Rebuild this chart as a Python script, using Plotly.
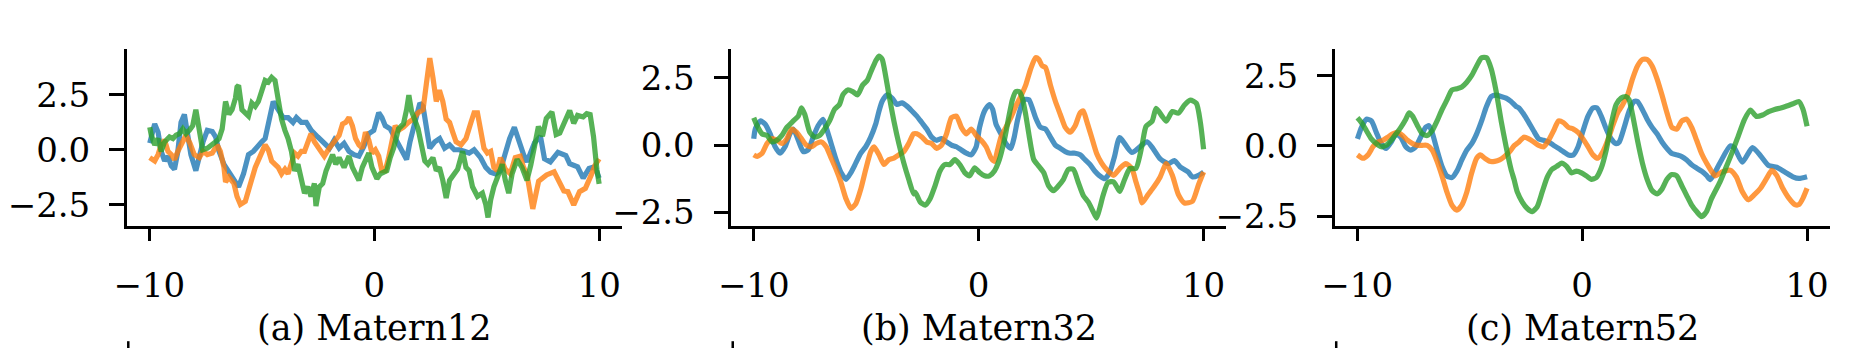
import plotly.graph_objects as go

# ---------------- data ----------------
# Panel (a) Matern12
m12_blue_x = [-9.98, -9.76, -9.61, -9.47, -9.32, -9.17, -9.02, -8.88, -8.73, -8.59, -8.44, -8.29, -8.15, -7.93, -7.78,
              -7.61, -7.42, -7.20, -7.05, -6.90, -6.68, -6.46, -6.24, -6.03, -5.81, -5.59, -5.37, -5.15, -5.00, -4.85,
              -4.68, -4.49, -4.27, -4.05, -3.83, -3.61, -3.46, -3.24, -3.02, -2.80, -2.51,
              -2.22, -1.99, -1.78, -1.56, -1.34, -1.12, -0.90, -0.68, -0.46, -0.24, -0.02, 0.20, 0.34, 0.49, 0.71,
              0.93, 1.15, 1.30, 1.44, 1.59, 1.73, 1.88, 2.03, 2.17, 2.32, 2.47, 2.69, 2.91, 3.13, 3.35, 3.56, 3.78,
              4.00, 4.22, 4.44, 4.73, 4.96, 5.17, 5.39, 5.61, 5.81, 6.02, 6.23, 6.42, 6.64,
              6.79, 7.13, 7.39, 7.57, 7.83, 8.17, 8.52, 8.69, 9.04, 9.29, 9.55, 9.81, 10.0]
m12_blue_y = [0.30, 1.17, 0.80, -0.07, -0.50, -0.30, -0.73, -0.88, -0.07, 1.24, 1.60, 0.66, -0.22, -0.95, -0.30,
              0.36, 0.88, 0.83, 0.58, -0.07, -0.66, -1.02, -1.39, -1.68, -1.09, -0.22, -0.07, 0.22, 0.36, 0.51,
              1.24, 2.19, 1.82, 1.46, 1.46, 1.24, 1.46, 1.24, 1.24, 0.88, 0.58,
              0.29, 0.07, 0.44, 0.07, 0.29, -0.07, -0.22, -0.29, 0.15, 0.73, 0.88, 1.68, 1.46, 1.09, 0.95,
              0.51, 0.07, -0.22, -0.44, 0.36, 0.95, 1.53, 2.12, 1.97, 0.80, 0.07, 0.36, 0.51, 0.07, 0.22, 0.0, 0.0,
              -0.07, -0.15, 0.0, -0.36, -0.80, -1.02, -1.09, -0.95, -0.22, 0.51, 1.02, 0.36, -0.22,
              -0.55, 0.32, 0.61, -0.41, -0.55, -0.12, -0.26, -0.63, -0.77, -1.29, -0.85, -0.77, -1.29]

m12_orange_x = [-9.98, -9.76, -9.61, -9.47, -9.32, -9.17, -9.02, -8.88, -8.73, -8.51, -8.37, -8.19, -8.00, -7.78,
                -7.61, -7.42, -7.20, -6.98, -6.84, -6.68, -6.61, -6.46, -6.24, -6.10, -5.95, -5.73, -5.59, -5.44,
                -5.29, -5.07, -4.85, -4.71, -4.56, -4.41, -4.27, -4.12, -3.97, -3.83, -3.68, -3.54, -3.39, -3.24,
                -3.10, -2.95, -2.81, -2.66, -2.44,
                -2.22, -2.00, -1.78, -1.56, -1.41, -1.27, -1.12, -0.97, -0.83, -0.68, -0.53, -0.39, -0.24, -0.10,
                0.05, 0.20, 0.34, 0.49, 0.64, 0.78, 0.93, 1.08, 1.30, 1.52, 1.73, 1.95, 2.17, 2.32, 2.47, 2.61,
                2.76, 2.90, 3.05, 3.20, 3.35, 3.49, 3.64, 3.86, 4.08, 4.30, 4.44, 4.59, 4.74, 4.88, 5.03, 5.18,
                5.32, 5.47, 5.61, 5.83, 6.05, 6.27, 6.49, 6.64,
                6.79, 6.96, 7.05, 7.31, 7.66, 8.00, 8.26, 8.43, 8.61, 8.87, 9.13, 9.39, 9.65, 9.82, 10.0]
m12_orange_y = [-0.36, -0.51, -0.22, 0.22, 0.44, -0.07, -0.22, -0.44, -0.07, 0.44, 0.66, 0.29, -0.22, -0.36,
                -0.07, -0.22, -0.15, 0.22, -0.07, -0.80, -1.46, -1.24, -1.53, -2.12, -2.48, -2.34, -1.82, -1.39,
                -0.80, -0.29, 0.22, 0.0, -0.51, -0.66, -0.80, -1.09, -0.88, -1.09, -0.66, -0.15, -0.29, -0.07,
                -0.07, 0.36, 0.73, 0.36, 0.0,
                -0.29, 0.07, 0.36, 0.66, 1.17, 1.24, 1.46, 1.09, 0.51, 0.22, 0.07, 0.80, 0.44, -0.15,
                0.0, -0.29, -0.95, -0.95, -0.36, 0.36, 1.09, 0.88, 1.02, 1.24, 1.39, 1.68, 1.82, 3.0, 4.16, 3.28,
                2.19, 2.70, 2.19, 1.39, 1.24, 0.80, 0.36, 0.22, 0.51, 1.24, 1.68, 1.68, 0.88, 0.07, -0.15, -0.07,
                -0.80, -0.95, -0.36, -0.88, -1.09, -0.36, -0.29, -0.80,
                -1.10, -2.31, -2.68, -1.43, -1.14, -1.00, -1.50, -1.87, -1.90, -2.50, -1.90, -1.75, -1.14, -0.70, -0.41]

m12_green_x = [-9.98, -9.91, -9.76, -9.61, -9.47, -9.32, -9.10, -8.95, -8.81, -8.66, -8.51, -8.37, -8.22, -8.07,
               -7.93, -7.78, -7.63, -7.42, -7.20, -7.05, -6.90, -6.76, -6.61, -6.46, -6.32, -6.17, -6.10, -6.03,
               -5.88, -5.73, -5.59, -5.44, -5.29, -5.15, -5.00, -4.85, -4.71, -4.56, -4.41, -4.27, -4.12, -3.97,
               -3.83, -3.68, -3.54, -3.39, -3.24, -3.10, -2.95, -2.81, -2.66, -2.59, -2.44,
               -2.29, -2.14, -2.00, -1.85, -1.71, -1.56, -1.34, -1.12, -0.97, -0.83, -0.68, -0.53, -0.39, -0.24,
               -0.10, 0.12, 0.27, 0.42, 0.56, 0.71, 0.86, 1.08, 1.30, 1.44, 1.54, 1.66, 1.81, 1.95, 2.10, 2.25,
               2.39, 2.61, 2.76, 2.90, 3.05, 3.20, 3.35, 3.56, 3.71, 3.93, 4.08, 4.22, 4.37, 4.59, 4.81, 4.96,
               5.06, 5.18, 5.32, 5.54, 5.69, 5.83, 5.98, 6.13, 6.35, 6.57, 6.79,
               6.96, 7.13, 7.30, 7.48, 7.65, 7.90, 8.09, 8.25, 8.43, 8.69, 8.87, 9.04, 9.29, 9.45, 9.60, 9.75,
               9.90, 10.0]
m12_green_y = [1.02, 0.66, 0.22, 0.51, -0.07, 0.36, 0.58, 0.51, 0.66, 0.73, 0.95, 0.73, 0.88, 1.09,
               1.82, 0.88, 0.0, 0.07, 0.22, 0.36, 0.51, 0.95, 2.19, 1.61, 1.82, 2.34, 2.85, 2.92,
               1.82, 1.68, 1.53, 2.12, 1.97, 2.19, 2.70, 3.14, 3.07, 3.28, 3.14, 2.12, 1.39, 0.88,
               0.51, -0.07, -0.95, -0.66, -1.39, -1.97, -1.68, -2.12, -1.53, -2.55, -1.68,
               -1.53, -0.95, -0.51, -0.22, -0.66, -0.36, -0.80, -0.29, -0.80, -1.09, -1.39, -0.80, -0.51, -0.15,
               -0.80, -1.31, -1.09, -1.02, -0.95, -0.36, 0.07, 0.95, 1.17, 1.82, 2.48, 1.75, 1.39, 0.95, 0.22, -0.51,
               -0.66, -0.36, -0.95, -0.80, -1.39, -2.19, -1.39, -1.09, -0.88, -0.07, -0.80, -0.95, -1.68, -2.12, -1.97, -2.48,
               -3.07, -2.26, -1.68, -1.09, -0.66, -1.39, -1.97, -1.09, -0.44, -0.80, -1.39,
               -0.70, 0.17, 1.05, 0.61, 1.42, 1.71, 0.69, 0.76, 1.20, 1.78, 1.20, 1.56, 1.49, 1.64, 1.60, 0.60,
               -0.90, -1.55]

# Panel (b) Matern32
m32_blue_x = [-10.0, -9.93, -9.71, -9.49, -9.27, -9.05, -8.83, -8.61, -8.39, -8.24, -8.02, -7.80, -7.58, -7.36,
              -7.14, -6.92, -6.78, -6.56, -6.34, -6.12, -5.90, -5.68, -5.46, -5.24, -5.02, -4.80, -4.58, -4.43,
              -4.29, -4.07, -3.85, -3.63, -3.41, -3.19, -2.97,
              -2.75, -2.53, -2.31, -2.09, -1.87, -1.65, -1.43, -1.21, -0.99, -0.77, -0.55, -0.33, -0.11, 0.04,
              0.26, 0.48, 0.62, 0.77, 0.99, 1.21, 1.43, 1.58, 1.72, 1.87, 2.01, 2.23, 2.38, 2.53, 2.75, 2.97,
              3.19, 3.41, 3.63, 3.85, 4.07, 4.29, 4.51, 4.73, 4.95, 5.16, 5.38, 5.60, 5.82, 6.04,
              6.27, 6.81, 7.49, 8.07, 8.43, 8.70, 8.96, 9.32, 9.50, 9.77, 10.0]
m32_blue_y = [0.24, 0.60, 0.90, 0.78, 0.42, -0.06, -0.30, -0.06, 0.42, 0.60, 0.18, -0.24, -0.18, 0.30,
              0.72, 0.96, 0.66, 0.06, -0.54, -1.02, -1.27, -1.02, -0.66, -0.30, -0.06, 0.30, 0.78, 1.27,
              1.63, 1.87, 1.75, 1.51, 1.57, 1.45, 1.27,
              1.08, 0.84, 0.60, 0.30, 0.18, 0.24, 0.12, 0.0, -0.06, -0.18, -0.30, -0.36, -0.06, 0.66,
              1.27, 1.51, 1.33, 0.78, 0.42, 0.06, -0.12, 0.30, 0.90, 1.39, 1.69, 1.69, 1.39, 1.02, 0.66, 0.60,
              0.30, 0.0, -0.12, -0.24, -0.30, -0.30, -0.36, -0.54, -0.72, -0.96, -1.14, -1.25, -1.02, -0.42,
              0.28, -0.27, 0.12, -0.51, -0.69, -0.57, -0.81, -1.0, -1.18, -1.12, -1.0]

m32_orange_x = [-10.0, -9.85, -9.63, -9.41, -9.19, -8.97, -8.75, -8.53, -8.31, -8.10, -7.88, -7.66, -7.44, -7.22,
                -7.00, -6.78, -6.56, -6.34, -6.12, -5.90, -5.68, -5.46, -5.24, -5.02, -4.80, -4.65, -4.43, -4.21,
                -4.00, -3.77, -3.55, -3.33, -3.11, -2.89,
                -2.75, -2.53, -2.31, -2.09, -1.87, -1.65, -1.43, -1.21, -0.99, -0.77, -0.55, -0.33, -0.11, 0.11,
                0.33, 0.55, 0.70, 0.84, 0.99, 1.21, 1.43, 1.65, 1.87, 2.09, 2.31, 2.53, 2.67, 2.82, 2.97, 3.19,
                3.41, 3.63, 3.85, 4.07, 4.29, 4.51, 4.65, 4.80, 5.02, 5.24, 5.46, 5.68,
                6.0, 6.27, 6.54, 6.81, 6.99, 7.17, 7.26, 7.53, 7.80, 8.07, 8.34, 8.61, 8.88, 9.15, 9.50, 9.77, 10.0]
m32_orange_y = [-0.36, -0.42, -0.30, 0.06, 0.24, 0.18, 0.06, 0.24, 0.60, 0.48, 0.24, 0.0, -0.06, 0.06,
                0.12, -0.06, -0.48, -0.90, -1.39, -1.99, -2.35, -2.17, -1.63, -0.90, -0.24, -0.06, -0.36, -0.72,
                -0.54, -0.48, -0.36, -0.24, 0.06, 0.42,
                0.42, 0.30, 0.12, 0.06, -0.12, 0.0, 0.42, 1.02, 1.08, 0.66, 0.42, 0.60, 0.36, 0.18,
                -0.06, -0.48, -0.60, -0.18, 0.30, 0.66, 1.02, 1.45, 1.81, 2.23, 2.83, 3.25, 3.19, 2.95, 2.89, 2.23,
                1.63, 1.14, 0.66, 0.48, 0.72, 1.20, 1.27, 0.90, 0.30, -0.30, -0.66, -0.90,
                -1.12, -0.87, -0.69, -0.87, -1.36, -1.84, -2.15, -1.84, -1.54, -1.18, -0.69, -1.12, -1.84, -2.15,
                -2.09, -1.48, -1.0]

m32_green_x = [-10.0, -9.85, -9.63, -9.41, -9.19, -8.97, -8.75, -8.53, -8.24, -8.02, -7.88, -7.73, -7.51, -7.29,
               -7.07, -6.85, -6.63, -6.41, -6.19, -6.04, -5.82, -5.60, -5.38, -5.16, -4.95, -4.80, -4.58, -4.43,
               -4.29, -4.14, -3.99, -3.77, -3.55, -3.33, -3.11, -2.89,
               -2.82, -2.60, -2.38, -2.16, -1.94, -1.72, -1.50, -1.28, -1.06, -0.84, -0.62, -0.40, -0.18, 0.04,
               0.26, 0.48, 0.70, 0.92, 1.14, 1.36, 1.50, 1.65, 1.79, 1.94, 2.09, 2.23, 2.45, 2.67, 2.89, 3.11,
               3.33, 3.55, 3.77, 3.99, 4.21, 4.43, 4.65, 4.87, 5.09, 5.24, 5.38, 5.53, 5.75,
               6.0, 6.27, 6.45, 6.72, 6.99, 7.26, 7.44, 7.71, 7.89, 8.16, 8.34, 8.61, 8.88, 9.15, 9.41, 9.68,
               9.86, 10.0]
m32_green_y = [1.02, 0.72, 0.42, 0.36, 0.12, 0.18, 0.36, 0.66, 0.90, 1.08, 1.39, 1.14, 0.48, 0.30,
               0.36, 0.60, 0.90, 1.33, 1.51, 1.87, 2.05, 1.99, 1.87, 2.23, 2.41, 2.71, 3.13, 3.31,
               3.19, 2.59, 1.87, 0.90, 0.06, -0.66, -1.27, -1.81,
               -1.75, -2.11, -2.23, -1.99, -1.51, -0.96, -0.72, -0.72, -0.54, -0.72, -1.02, -1.14, -0.84, -1.02,
               -1.14, -1.14, -0.96, -0.54, 0.18, 1.14, 1.69, 1.99, 1.99, 1.75, 1.14, 0.42, -0.54, -0.78, -1.02, -1.51,
               -1.69, -1.51, -1.27, -0.90, -0.90, -1.39, -1.87, -2.11, -2.47, -2.71, -2.35, -1.87, -1.39,
               -1.36, -1.72, -1.36, -0.87, -0.87, -0.02, 0.70, 0.89, 1.37, 1.07, 0.89, 1.25, 1.19, 1.49, 1.67, 1.55,
               0.83, -0.15]

# Panel (c) Matern52
m52_blue_x = [-9.99, -9.81, -9.59, -9.37, -9.15, -8.93, -8.71, -8.49, -8.27, -8.06, -7.84, -7.62, -7.40, -7.18,
              -6.96, -6.81, -6.67, -6.45, -6.23, -6.01, -5.79, -5.57, -5.35, -5.13, -4.91, -4.69, -4.47, -4.25,
              -4.04, -3.82, -3.60, -3.38, -3.16, -2.94,
              -2.81, -2.59, -2.37, -2.16, -1.93, -1.71, -1.49, -1.27, -1.05, -0.83, -0.61, -0.39, -0.18, 0.04,
              0.26, 0.48, 0.66, 0.85, 1.07, 1.29, 1.51, 1.65, 1.87, 2.09, 2.31, 2.46, 2.68, 2.89, 3.11, 3.33,
              3.55, 3.77, 3.99, 4.21, 4.43, 4.65, 4.87, 5.09, 5.31, 5.53, 5.70,
              6.13, 6.58, 6.76, 7.12, 7.57, 7.93, 8.29, 8.65, 9.01, 9.37, 9.64, 10.0]
m52_blue_y = [0.25, 0.66, 0.95, 0.89, 0.48, 0.08, -0.09, 0.14, 0.43, 0.31, -0.03, -0.15, -0.03, 0.31,
              0.66, 0.72, 0.48, -0.15, -0.73, -1.07, -1.13, -0.90, -0.50, -0.15, 0.08, 0.43, 0.89, 1.41,
              1.76, 1.81, 1.76, 1.70, 1.58, 1.41,
              1.35, 1.12, 0.83, 0.54, 0.25, 0.20, 0.14, 0.02, -0.09, -0.21, -0.32, -0.32, -0.03, 0.54,
              1.06, 1.35, 1.35, 1.06, 0.60, 0.25, 0.08, 0.14, 0.66, 1.24, 1.58, 1.58, 1.29, 0.95, 0.66, 0.43,
              0.14, -0.09, -0.27, -0.32, -0.38, -0.50, -0.67, -0.79, -0.90, -1.05, -1.20,
              -0.60, 0.0, -0.06, -0.58, -0.06, -0.35, -0.70, -0.76, -0.93, -1.10, -1.16, -1.10]

m52_orange_x = [-9.99, -9.74, -9.52, -9.30, -9.08, -8.86, -8.64, -8.42, -8.20, -7.98, -7.76, -7.54, -7.32, -7.11,
                -6.89, -6.67, -6.45, -6.23, -6.01, -5.79, -5.57, -5.35, -5.13, -4.91, -4.69, -4.52, -4.33, -4.11,
                -3.89, -3.67, -3.45, -3.23, -3.01,
                -2.81, -2.59, -2.37, -2.15, -1.93, -1.71, -1.49, -1.27, -1.05, -0.83, -0.61, -0.39, -0.18, 0.04,
                0.26, 0.48, 0.70, 0.92, 1.14, 1.36, 1.58, 1.80, 2.02, 2.24, 2.46, 2.68, 2.89, 3.11, 3.33, 3.55,
                3.77, 3.99, 4.21, 4.43, 4.65, 4.87, 5.09, 5.31, 5.53, 5.75, 5.92,
                6.22, 6.58, 6.85, 7.12, 7.39, 7.66, 7.93, 8.20, 8.43, 8.65, 8.92, 9.19, 9.46, 9.64, 9.82, 10.0]
m52_orange_y = [-0.32, -0.44, -0.32, -0.03, 0.14, 0.20, 0.31, 0.43, 0.48, 0.37, 0.20, 0.08, 0.02, 0.02,
                0.02, -0.15, -0.55, -1.07, -1.65, -2.11, -2.29, -2.11, -1.65, -0.96, -0.44, -0.32, -0.44, -0.55,
                -0.55, -0.50, -0.38, -0.21, 0.02,
                0.14, 0.31, 0.25, 0.14, 0.02, -0.03, 0.20, 0.54, 0.89, 0.83, 0.66, 0.60, 0.48, 0.25,
                -0.03, -0.32, -0.44, -0.21, 0.20, 0.72, 1.18, 1.47, 1.81, 2.39, 2.85, 3.08, 3.08, 2.85, 2.39, 1.81,
                1.18, 0.66, 0.60, 0.89, 0.95, 0.66, 0.20, -0.27, -0.61, -0.90, -1.07,
                -0.93, -0.87, -1.10, -1.63, -1.92, -1.74, -1.51, -1.16, -0.87, -1.05, -1.51, -1.86, -2.09, -2.09,
                -1.86, -1.51]

m52_green_x = [-9.99, -9.81, -9.59, -9.37, -9.15, -8.93, -8.71, -8.49, -8.27, -8.06, -7.84, -7.69, -7.54, -7.32,
               -7.11, -6.89, -6.67, -6.45, -6.23, -6.01, -5.79, -5.57, -5.35, -5.13, -4.91, -4.69, -4.47, -4.25,
               -4.04, -3.82, -3.60, -3.38, -3.16,
               -3.03, -2.88, -2.66, -2.44, -2.22, -2.00, -1.78, -1.56, -1.35, -1.13, -0.91, -0.69, -0.47, -0.25,
               -0.03, 0.19, 0.41, 0.63, 0.85, 1.07, 1.29, 1.51, 1.73, 1.94, 2.09, 2.24, 2.46, 2.68, 2.89, 3.11,
               3.33, 3.55, 3.77, 3.99, 4.21, 4.43, 4.65, 4.87, 5.09, 5.31, 5.53, 5.75,
               6.13, 6.40, 6.67, 6.94, 7.21, 7.48, 7.75, 8.02, 8.29, 8.56, 8.83, 9.10, 9.37, 9.64, 9.82, 10.0]
m52_green_y = [1.00, 0.83, 0.54, 0.25, 0.08, -0.03, 0.02, 0.20, 0.43, 0.66, 0.95, 1.18, 1.06, 0.72,
               0.43, 0.37, 0.54, 0.89, 1.29, 1.64, 1.99, 2.04, 2.10, 2.27, 2.51, 2.85, 3.14, 3.14,
               2.74, 1.93, 0.89, -0.03, -0.84,
               -1.19, -1.65, -2.00, -2.23, -2.34, -2.17, -1.65, -1.13, -0.84, -0.73, -0.61, -0.73, -0.96, -0.90,
               -0.96, -1.07, -1.19, -1.13, -0.79, -0.15, 0.77, 1.47, 1.70, 1.76, 1.64, 1.12, 0.20, -0.61, -1.19, -1.59,
               -1.71, -1.54, -1.19, -1.02, -1.07, -1.42, -1.77, -2.11, -2.34, -2.52, -2.34, -1.88,
               -1.28, -0.76, -0.23, 0.35, 0.93, 1.28, 1.05, 1.10, 1.22, 1.30, 1.35, 1.42, 1.50, 1.58, 1.30, 0.70]

titles = ["(a) Matern12", "(b) Matern32", "(c) Matern52"]
x_ticks = [-10, 0, 10]
x_tick_text = ["\u221210", "0", "10"]
y_ticks = [-2.5, 0, 2.5]
y_tick_text = ["\u22122.5", "0.0", "2.5"]
y_ranges = [[-3.44, 4.58], [-2.99, 3.58], [-2.84, 3.46]]
colors = ["#1f77b4", "#ff7f0e", "#2ca02c"]

panels = [
    [(m12_blue_x, m12_blue_y), (m12_orange_x, m12_orange_y), (m12_green_x, m12_green_y)],
    [(m32_blue_x, m32_blue_y), (m32_orange_x, m32_orange_y), (m32_green_x, m32_green_y)],
    [(m52_blue_x, m52_blue_y), (m52_orange_x, m52_orange_y), (m52_green_x, m52_green_y)],
]
shapes_line = ["linear", "spline", "spline"]

# ---------------- layout geometry (window pixels) ----------------
# The page body has an 8px default margin, so the figure is shifted by OFF.
OFF = 8
WIN_W, WIN_H = 1874, 358
W, H = WIN_W - OFF, WIN_H - OFF
ax_left_px = [105, 717, 1328]
ax_width_px = 501
ax_top_px, ax_bottom_px = 50, 232
FONT = "DejaVu Serif"
FS_TICK = 34
FS_TITLE = 35


def px_x(p):
    return (p - OFF) / W


def px_y(p):
    return (H - (p - OFF)) / H


fig = go.Figure()
layout = dict(
    width=W, height=H, autosize=False,
    margin=dict(l=0, r=0, t=0, b=0),
    paper_bgcolor="white", plot_bgcolor="white",
    showlegend=False,
    font=dict(family=FONT, size=FS_TICK, color="black"),
)

annotations = []
shapes = []
for i, series in enumerate(panels):
    xa = "x" if i == 0 else f"x{i+1}"
    ya = "y" if i == 0 else f"y{i+1}"
    for (sx, sy), c in zip(series, colors):
        fig.add_trace(go.Scatter(
            x=sx, y=sy, mode="lines", xaxis=xa, yaxis=ya,
            line=dict(color=c, width=5.2, shape=shapes_line[i], smoothing=0.6),
            opacity=0.8, hoverinfo="skip",
        ))
    d0 = px_x(ax_left_px[i])
    d1 = px_x(ax_left_px[i] + ax_width_px)
    key_x = "xaxis" if i == 0 else f"xaxis{i+1}"
    key_y = "yaxis" if i == 0 else f"yaxis{i+1}"
    layout[key_x] = dict(
        domain=[d0, d1], range=[-11, 11], anchor=ya,
        tickmode="array", tickvals=x_ticks, ticktext=x_tick_text,
        showline=True, linecolor="black", linewidth=2.5,
        ticks="outside", ticklen=13, tickwidth=2.5, tickcolor="black",
        showgrid=False, zeroline=False, ticklabelstandoff=15,
        tickfont=dict(family=FONT, size=FS_TICK, color="black"),
    )
    layout[key_y] = dict(
        domain=[px_y(ax_bottom_px), px_y(ax_top_px)], range=y_ranges[i], anchor=xa,
        tickmode="array", tickvals=y_ticks, ticktext=y_tick_text,
        showline=True, linecolor="black", linewidth=2.5,
        ticks="outside", ticklen=15, tickwidth=2.5, tickcolor="black",
        showgrid=False, zeroline=False, ticklabelstandoff=12,
        tickfont=dict(family=FONT, size=FS_TICK, color="black"),
    )
    annotations.append(dict(
        text=titles[i], xref="paper", yref="paper",
        x=(d0 + d1) / 2, y=px_y(337), xanchor="center", yanchor="middle",
        showarrow=False, font=dict(family=FONT, size=FS_TITLE, color="black"),
    ))
    # tops of the next row's left spines, visible at the bottom edge
    xs = px_x(ax_left_px[i] + 1.5)
    shapes.append(dict(type="line", xref="paper", yref="paper",
                       x0=xs, x1=xs, y0=0, y1=7 / H,
                       line=dict(color="black", width=2.5)))

layout["annotations"] = annotations
layout["shapes"] = shapes
fig.update_layout(**layout)
fig.write_html("out.html")
